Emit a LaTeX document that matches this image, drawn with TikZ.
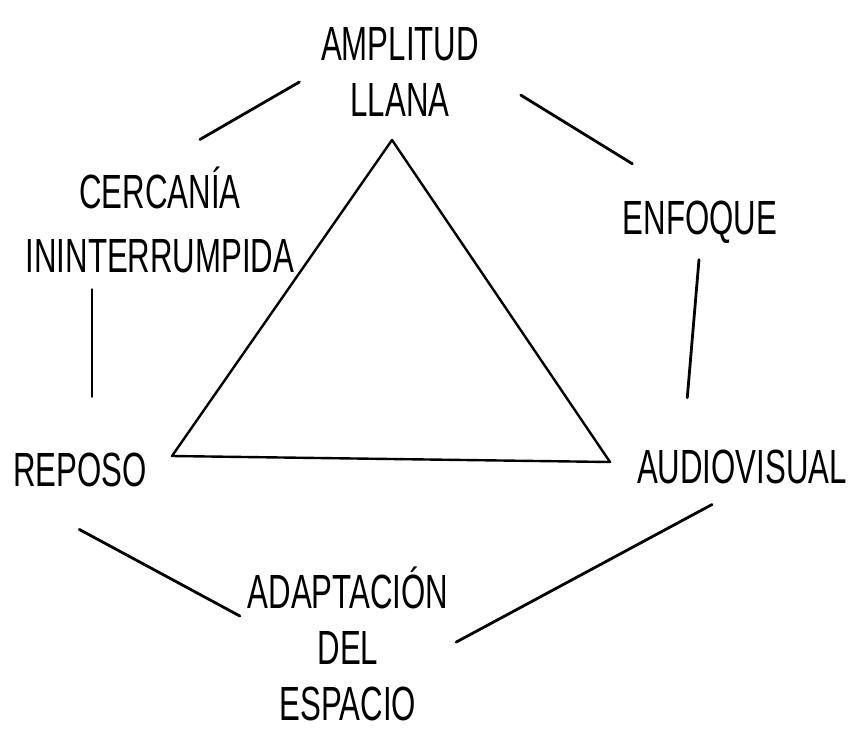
\documentclass[tikz,border=0pt]{standalone}
\usepackage{fontspec}
\setmainfont[FakeStretch=0.65]{Liberation Sans}

\begin{document}
\begin{tikzpicture}[x=0.5pt, y=-0.5pt]
	\tikzstyle{word}=[align=center, inner sep=2pt, text=black, font=\fontsize{24}{28}\selectfont]
	\tikzstyle{link}=[line width=1.4pt, line cap=round]
	\useasboundingbox (0,0) rectangle (856,728);

	% CONCEPTOS
	\node[word] (ampl) at (400,72) {AMPLITUD\\LLANA};
	\node[word] (cerc) at (160,220) {CERCANÍA\\[4pt]ININTERRUMPIDA};
	\node[word] (enf) at (700,222) {ENFOQUE};
	\node[word] (repo) at (80,470) {REPOSO};
	\node[word] (audio) at (742,467) {AUDIOVISUAL};
	\node[word] (adap) at (348,644) {ADAPTACIÓN\\DEL\\ESPACIO};

	% TRIANGULO
	\coordinate (T1) at (392,140);
	\coordinate (T2) at (172,456);
	\coordinate (T3) at (610,462);
	\draw[line width=1.2pt, line join=round] (T1) -- (T2) -- (T3) -- cycle;

	% UNIONES
	\path[link]
		(cerc.north) edge [shorten <=23pt, shorten >=10pt] (ampl.west)
		(ampl.east) edge [shorten <=22pt, shorten >=31pt] (enf.120)
		(enf.south) edge [shorten <=6pt, shorten >=24pt] (audio.160)
		([xshift=6pt]repo.north |- cerc.south) edge [shorten <=6pt, shorten >=26pt] ([xshift=6pt]repo.north)
		(repo.south west) edge [shorten <=40pt, shorten >=2pt] (adap.166)
		(adap.east) edge [shorten <=2pt, shorten >=17pt] (audio.south)
	;
\end{tikzpicture}
\end{document}
